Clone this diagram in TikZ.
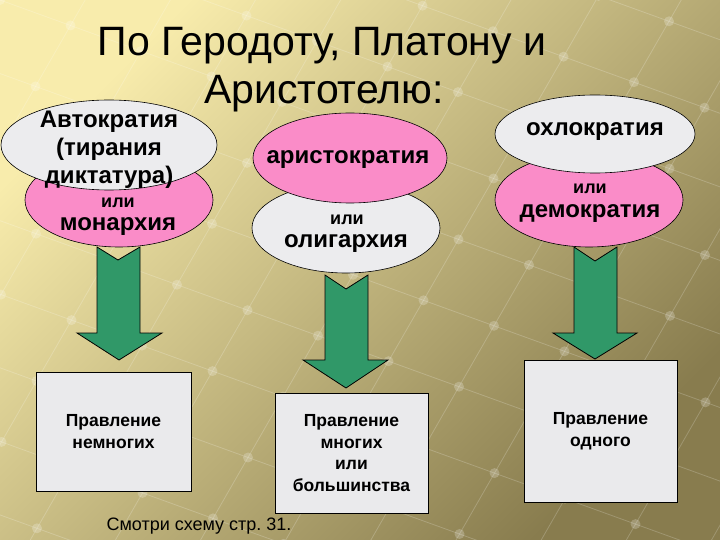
\documentclass[tikz,border=0pt]{standalone}
\usepackage{fontspec}
\setmainfont{Liberation Sans}
\usetikzlibrary{shapes.geometric}
\frenchspacing
\definecolor{pinkfill}{RGB}{250,140,200}
\definecolor{greyfill}{RGB}{236,236,238}
\definecolor{boxfill}{RGB}{234,234,236}
\definecolor{arrowgreen}{RGB}{48,152,104}
\definecolor{bglight}{RGB}{248,236,172}
\definecolor{bgdark}{RGB}{136,124,78}
\begin{document}
\begin{tikzpicture}[x=1pt,y=-1pt,
  pinkell/.style={ellipse, draw=black, line width=0.6pt, fill=pinkfill, inner sep=0pt},
  greyell/.style={ellipse, draw=black, line width=0.6pt, fill=greyfill, inner sep=0pt},
  ellbig/.style={font=\fontsize{24}{28}\selectfont\bfseries, align=center, inner sep=0pt},
  ellsmall/.style={font=\fontsize{18}{20}\selectfont\bfseries, inner sep=0pt},
  govbox/.style={rectangle, draw=black, line width=0.8pt, fill=boxfill, align=center,
     font=\fontsize{17.5}{21.5}\selectfont\bfseries, inner sep=0pt},
  greenarrow/.style={draw=black, line width=0.8pt, fill=arrowgreen},
  gridline/.style={draw=white, opacity=0.2, line width=0.8pt},
  griddot/.style={fill=white, opacity=0.22}]
\useasboundingbox (0,0) rectangle (720,540);
\shade[top color=bglight, bottom color=bgdark, shading angle=45] (0,0) rectangle (720,540);
\begin{scope}
\clip (0,0) rectangle (720,540);
\foreach \j in {-9,...,5} {
  \draw[gridline] ({\j*70*0.5-1200*0.94},{\j*70*(-0.87)-1200*0.34}) -- ({\j*70*0.5+1200*0.94},{\j*70*(-0.87)+1200*0.34});
}
\foreach \i in {-1,...,13} {
  \draw[gridline] ({\i*75*0.94-1200*0.5},{\i*75*0.34+1200*0.87}) -- ({\i*75*0.94+1200*0.5},{\i*75*0.34-1200*0.87});
}
\foreach \i in {-1,...,13} {
  \foreach \j in {-9,...,5} {
    \fill[griddot] ({\i*75*0.94+\j*70*0.5},{\i*75*0.34+\j*70*(-0.87)}) circle (5);
  }
}
\end{scope}
% title
\node[font=\fontsize{41}{46}\selectfont, anchor=base] (title1) at (322,56) {По Геродоту, Платону и};
\node[font=\fontsize{41}{46}\selectfont, anchor=base] (title2) at (324,104) {Аристотелю:};
% arrows
\draw[greenarrow] (97,247) -- (118,260) -- (140,247) -- (140,333) -- (162,333) -- (119,360) -- (77,333) -- (97,333) -- cycle;
\draw[greenarrow] (325,275) -- (346,289) -- (368,275) -- (368,360) -- (388,360) -- (346,388) -- (303,360) -- (325,360) -- cycle;
\draw[greenarrow] (574,247) -- (595,261) -- (617,247) -- (617,333) -- (637,333) -- (595,359) -- (553,333) -- (574,333) -- cycle;
% left group
\node[pinkell, minimum width=188pt, minimum height=94pt] (monE) at (119,200) {};
\node[greyell, minimum width=216pt, minimum height=90pt] (autoE) at (109,145) {};
\node[ellbig] (autoT) at (109,150) {Автократия\\(тирания\\диктатура)};
\node[ellsmall] (ili1) at (118,203) {или};
\node[ellbig] (monT) at (118,227) {монархия};
% middle group
\node[greyell, minimum width=188pt, minimum height=90pt] (oligE) at (346,228) {};
\node[pinkell, minimum width=194pt, minimum height=90pt] (aristE) at (350,158) {};
\node[ellbig] (aristT) at (348,160) {аристократия};
\node[ellsmall] (ili2) at (347,220) {или};
\node[ellbig] (oligT) at (346,244) {олигархия};
% right group
\node[pinkell, minimum width=188pt, minimum height=94pt] (demE) at (589,200) {};
\node[greyell, minimum width=200pt, minimum height=78pt] (ochE) at (595,134) {};
\node[ellbig] (ochT) at (595,132) {охлократия};
\node[ellsmall] (ili3) at (590,189) {или};
\node[ellbig] (demT) at (590,214) {демократия};
% boxes
\node[govbox, minimum width=155pt, minimum height=119pt] (few) at (113.5,431.5) {Правление\\немногих};
\node[govbox, minimum width=153pt, minimum height=120pt] (many) at (351.5,453) {Правление\\многих\\или\\большинства};
\node[govbox, minimum width=153pt, minimum height=142pt] (one) at (600.5,431) {Правление\\одного};
% note
\node[font=\fontsize{18}{20}\selectfont, inner sep=0pt] (note) at (199,526) {Смотри схему стр. 31.};
\end{tikzpicture}
\end{document}
